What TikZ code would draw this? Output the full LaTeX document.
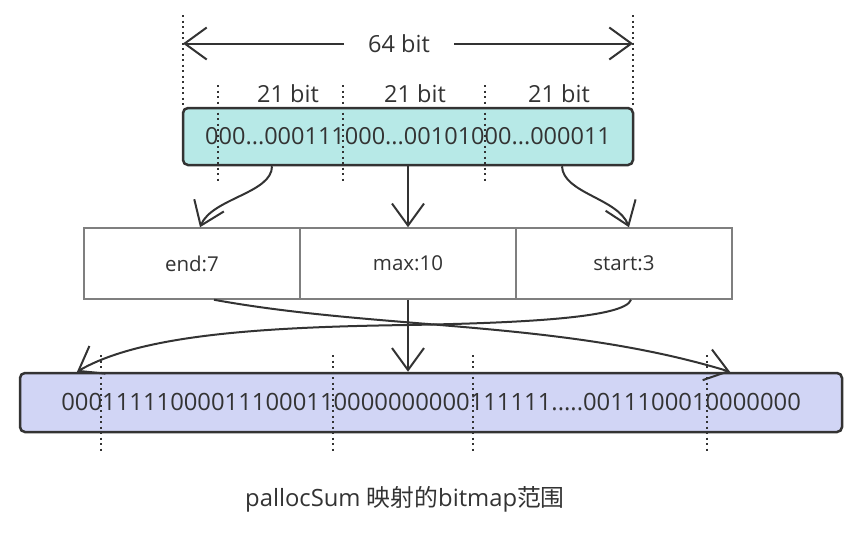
\documentclass[tikz,border=0pt]{standalone}
\usepackage{fontspec}
\setmainfont{Open Sans}
\newfontfamily\cjk{Noto Sans CJK SC}
\usetikzlibrary{arrows.meta}
\definecolor{ink}{HTML}{333333}
\definecolor{cellgray}{HTML}{7F7F7F}
\definecolor{wordcyan}{HTML}{B7E9E7}
\definecolor{mapblue}{HTML}{D1D5F5}
\tikzset{every picture/.style={line width=2pt}}
\tikzset{
  word/.style={text=ink,inner sep=0pt,font=\fontsize{23.5}{26}\selectfont},
  rbox/.style={draw=ink,line width=2.5pt,rounded corners=5pt,text=ink,inner sep=0pt,font=\fontsize{23.5}{26}\selectfont},
  cell/.style={draw=cellgray,line width=1.5pt,minimum width=216pt,minimum height=71pt,text=ink,inner sep=0pt,font=\fontsize{20.5}{24}\selectfont},
  dotline/.style={draw=ink,line width=2pt,dash pattern=on 2pt off 3.5pt},
  arr/.style={draw=ink,line width=2pt,-{Straight Barb[length=22pt,width=32pt]}}
}

\begin{document}
\begin{tikzpicture}[x=1pt,y=-1pt]
\useasboundingbox (0,0) rectangle (858,536);
%
\node[rbox,fill=wordcyan,minimum width=450pt,minimum height=57pt] (0) at (408,136.5) {000...000111000...00101000...000011};
%
\node[cell] (1) at (192,263.5) {end:7};
\node[cell] (2) at (408,263.5) {max:10};
\node[cell] (3) at (624,263.5) {start:3};
%
\node[rbox,fill=mapblue,minimum width=822pt,minimum height=59pt,font=\fontsize{23.8}{26}\selectfont] (4) at (431,402.5) {000111110000111000110000000000111111.....0011100010000000};
%
\node[word,minimum width=108pt] (64) at (399,43.5) {64 bit};
\coordinate (64l) at (183,43.5);
\coordinate (64r) at (633,43.5);
\node[word] (21a) at (288,94) {21 bit};
\node[word] (21b) at (415,94) {21 bit};
\node[word] (21c) at (559,94) {21 bit};
%
\node[word,font=\fontsize{23.8}{28}\selectfont] (cap) at (405,499) {pallocSum {\cjk 映射的}bitmap{\cjk 范围}};
%
\foreach \Source/\Target in {%
	64.west/64l,
	64.east/64r%
    }
\draw[arr] (\Source) -- (\Target);
%
\draw[arr] ([xshift=-136pt]0.south) .. controls +(0,27) and +(12,-29) .. ([xshift=8pt]1.north);
\draw[arr] (0.south) -- (2.north);
\draw[arr] ([xshift=154pt]0.south) .. controls +(1,27) and +(-11,-29) .. ([xshift=5pt]3.north);
%
\draw[arr] ([xshift=22pt]1.south) .. controls (380,330) and (560,320) .. ([xshift=299pt]4.north);
\draw[arr] (2.south) -- (2.south |- 4.north);
\draw[arr] ([xshift=7pt]3.south) .. controls (625,318) and (520,323) .. (408,325)
  .. controls (260,327) and (140,335) .. ([xshift=-354pt]4.north);
%
\foreach \x in {183,633} \draw[dotline] (\x,15) -- (\x,105);
\foreach \x in {218,343,485} \draw[dotline] (\x,85) -- (\x,183);
\foreach \x in {101,333,473,707} \draw[dotline] (\x,355) -- (\x,453);
\end{tikzpicture}
\end{document}
